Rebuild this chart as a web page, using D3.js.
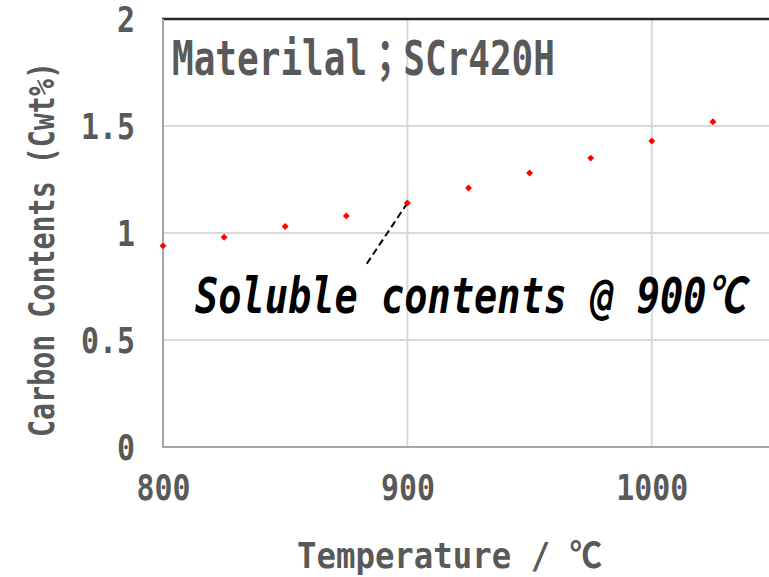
<!DOCTYPE html>
<html>
<head>
<meta charset="utf-8">
<script src="https://cdn.jsdelivr.net/npm/d3@7"></script>
<style>
  html, body { margin: 0; padding: 0; background: #fff; }
  svg { display: block; }
</style>
</head>
<body>
<svg id="chart" width="769" height="577"></svg>
<script>
// ---- data ----
const temperatures = [800, 825, 850, 875, 900, 925, 950, 975, 1000, 1025];
const carbonValues = [0.94, 0.98, 1.03, 1.08, 1.14, 1.21, 1.28, 1.35, 1.43, 1.52];
const xTicks = [800, 900, 1000];
const yTicks = [0, 0.5, 1, 1.5, 2];
const xGrid = [900, 1000];
const yGrid = [0.5, 1, 1.5];
const leaderStart = [900, 1.14];
const leaderEnd = [883, 0.85];
const titleText = "Materilal；SCr420H";
const annotationText = "Soluble contents @ 900℃";
const xTitle = "Temperature / ℃";
const yTitle = "Carbon Contents (Cwt%)";

// ---- layout ----
const svg = d3.select("#chart");
const pLeft = 163, pRight = 774, pTop = 19, pBottom = 447;
const x = d3.scaleLinear().domain([800, 1050]).range([pLeft, pRight]);
const y = d3.scaleLinear().domain([0, 2]).range([pBottom, pTop]);
const font = "'DejaVu Sans Mono', 'Noto Sans CJK JP', monospace";
const grey = "#595959";

// gridlines
svg.append("g").selectAll("line").data(yGrid).join("line")
  .attr("x1", pLeft).attr("x2", pRight)
  .attr("y1", d => y(d)).attr("y2", d => y(d))
  .attr("stroke", "#d9d9d9").attr("stroke-width", 2);
svg.append("g").selectAll("line").data(xGrid).join("line")
  .attr("x1", d => x(d)).attr("x2", d => x(d))
  .attr("y1", pTop).attr("y2", pBottom)
  .attr("stroke", "#d9d9d9").attr("stroke-width", 2);

// top border
svg.append("line").attr("x1", pLeft - 1).attr("x2", pRight)
  .attr("y1", pTop).attr("y2", pTop)
  .attr("stroke", "#262626").attr("stroke-width", 2.5);

// axes lines
svg.append("line").attr("x1", pLeft).attr("x2", pLeft)
  .attr("y1", pTop).attr("y2", pBottom)
  .attr("stroke", "#a6a6a6").attr("stroke-width", 2);
svg.append("line").attr("x1", pLeft - 1).attr("x2", pRight)
  .attr("y1", pBottom).attr("y2", pBottom)
  .attr("stroke", "#a6a6a6").attr("stroke-width", 2);

// x axis labels via d3 axis
const xAxis = svg.append("g").attr("transform", `translate(0,${pBottom})`)
  .call(d3.axisBottom(x).tickValues(xTicks).tickSize(0).tickPadding(0).tickFormat(d3.format("d")));
xAxis.select(".domain").remove();
xAxis.selectAll("text")
  .attr("y", 53).attr("dy", null)
  .attr("fill", grey)
  .style("font-family", font).style("font-size", "36px").style("font-weight", 700)
  .attr("textLength", d => String(d).length * 18)
  .attr("lengthAdjust", "spacingAndGlyphs");

// y axis labels via d3 axis
const yAxis = svg.append("g").attr("transform", `translate(135,0)`)
  .call(d3.axisLeft(y).tickValues(yTicks).tickSize(0).tickPadding(0).tickFormat(d => String(d)));
yAxis.select(".domain").remove();
yAxis.selectAll("text")
  .attr("x", 0).attr("dy", "0.36em")
  .attr("text-anchor", "end")
  .attr("fill", grey)
  .style("font-family", font).style("font-size", "35px").style("font-weight", 700)
  .attr("textLength", d => String(d).length * 18)
  .attr("lengthAdjust", "spacingAndGlyphs");

// leader line
svg.append("line")
  .attr("x1", x(leaderStart[0])).attr("y1", y(leaderStart[1]))
  .attr("x2", x(leaderEnd[0])).attr("y2", y(leaderEnd[1]))
  .attr("stroke", "#000").attr("stroke-width", 2).attr("stroke-dasharray", "7,4");

// points
svg.append("g").selectAll("path").data(temperatures).join("path")
  .attr("d", d3.symbol().type(d3.symbolSquare).size(24))
  .attr("transform", (d, i) => `translate(${x(d)},${y(carbonValues[i])}) rotate(45)`)
  .attr("fill", "#ff0000");

// title
svg.append("text").attr("x", 172).attr("y", 75)
  .attr("fill", grey)
  .style("font-family", font).style("font-size", "48px").style("font-weight", 700)
  .attr("textLength", 383).attr("lengthAdjust", "spacingAndGlyphs")
  .text(titleText);

// annotation
svg.append("text").attr("x", 195).attr("y", 313)
  .attr("fill", "#000")
  .style("font-family", font).style("font-size", "49px").style("font-weight", 700)
  .style("font-style", "italic")
  .attr("textLength", 550).attr("lengthAdjust", "spacingAndGlyphs")
  .text(annotationText);

// x title
svg.append("text").attr("x", 297).attr("y", 568)
  .attr("fill", grey)
  .style("font-family", font).style("font-size", "35px").style("font-weight", 700)
  .attr("textLength", 305).attr("lengthAdjust", "spacingAndGlyphs")
  .text(xTitle);

// y title
svg.append("text")
  .attr("transform", "translate(54,437) rotate(-90)")
  .attr("x", 0).attr("y", 0)
  .attr("fill", grey)
  .style("font-family", font).style("font-size", "36px").style("font-weight", 700)
  .attr("textLength", 375).attr("lengthAdjust", "spacingAndGlyphs")
  .text(yTitle);
</script>
</body>
</html>
